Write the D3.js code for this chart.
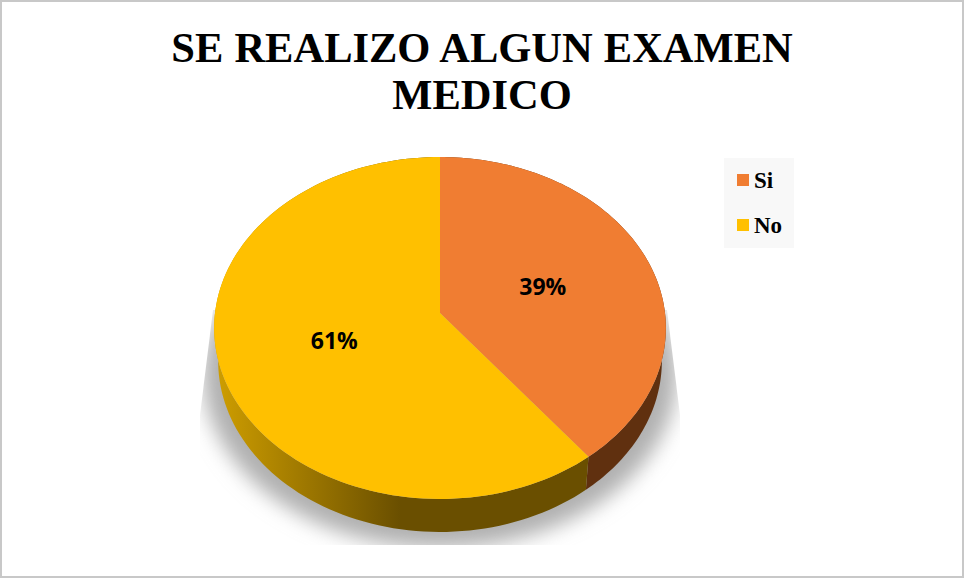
<!DOCTYPE html>
<html>
<head>
<meta charset="utf-8">
<script src="https://cdn.jsdelivr.net/npm/d3@7"></script>
<style>
  html, body { margin: 0; padding: 0; background: #fff; }
  svg { display: block; }
</style>
</head>
<body>
<div id="viz"></div>
<script>
const titleLines = ['SE REALIZO ALGUN EXAMEN', 'MEDICO'];
const categories = ['Si', 'No'];
const shares = [0.3947, 0.6053]; // labels only show whole percents

const topColors = ['#f07d32', '#ffc000'];
const wallColors = ['#60300f', 'url(#wallNo)'];

const width = 964;
const height = 578;
const serif = '"Liberation Serif", "Times New Roman", serif';

const svg = d3.select('#viz')
  .append('svg')
  .attr('width', width)
  .attr('height', height)
  .attr('viewBox', `0 0 ${width} ${height}`);

const defs = svg.append('defs');

const wallGradient = defs.append('linearGradient')
  .attr('id', 'wallNo')
  .attr('gradientUnits', 'userSpaceOnUse')
  .attr('x1', 220).attr('x2', 400)
  .attr('y1', 0).attr('y2', 0);
wallGradient.append('stop').attr('offset', 0).attr('stop-color', '#cc9c00');
wallGradient.append('stop').attr('offset', 1).attr('stop-color', '#6a4f00');

defs.append('filter')
  .attr('id', 'soft')
  .attr('x', '-20%').attr('y', '-20%')
  .attr('width', '140%').attr('height', '140%')
  .append('feGaussianBlur')
  .attr('stdDeviation', 10);

defs.append('clipPath')
  .attr('id', 'shadowClip')
  .append('polygon')
  .attr('points', '213,310 200,415 200,545 680,545 680,415 667,310');

// Frame
svg.append('rect')
  .attr('x', 1).attr('y', 1)
  .attr('width', width - 2).attr('height', height - 2)
  .attr('fill', '#fff')
  .attr('stroke', '#c8c8c8')
  .attr('stroke-width', 2);

// Title
svg.append('g')
  .selectAll('text')
  .data(titleLines)
  .join('text')
  .attr('x', 482)
  .attr('y', (d, i) => 62 + i * 47)
  .attr('text-anchor', 'middle')
  .attr('font-family', serif)
  .attr('font-weight', 'bold')
  .attr('font-size', 42.5)
  .attr('word-spacing', 0.5)
  .text(d => d);

// Tilted disc: a unit circle seen in perspective, so the apex sits above the
// middle of the ellipse
const cx = 440;
const apexY = 313;
const persp = -0.0877;
const yGain = 142.2;

const project = (angle, r, spread, drop) => {
  const u = Math.sin(angle) * r;
  const v = -Math.cos(angle) * r;
  const w = 1 + persp * v;
  return [cx + spread * u / w, (yGain * v + apexY) / w + drop];
};

const topSpread = 225;
const wallSpread = 221;
const wallDrop = 33;

const pie = d3.pie().sort(null).value(d => d);
const arcs = pie(shares);
const line = d3.line();

const arcAngles = d => d3.range(0, 121).map(i => d.startAngle + (d.endAngle - d.startAngle) * i / 120);

// Shadow
svg.append('g')
  .attr('clip-path', 'url(#shadowClip)')
  .append('ellipse')
  .attr('cx', cx)
  .attr('cy', 374)
  .attr('rx', 237)
  .attr('ry', 174)
  .attr('fill', '#b0b0b0')
  .attr('filter', 'url(#soft)');

// Walls
svg.append('g')
  .selectAll('path')
  .data(arcs)
  .join('path')
  .attr('fill', (d, i) => wallColors[i])
  .attr('d', d => {
    const angles = arcAngles(d);
    const upper = angles.map(a => project(a, 1, topSpread, 0));
    const lower = angles.map(a => project(a, 1, wallSpread, wallDrop)).reverse();
    return line(upper.concat(lower)) + 'Z';
  });

// Top face
svg.append('g')
  .selectAll('path')
  .data(arcs)
  .join('path')
  .attr('fill', (d, i) => topColors[i])
  .attr('d', d => {
    const rim = arcAngles(d).map(a => project(a, 1, topSpread, 0));
    return line([[cx, apexY]].concat(rim)) + 'Z';
  });

// Percent labels
const percent = d3.format('.0%');
svg.append('g')
  .selectAll('text')
  .data(arcs)
  .join('text')
  .attr('x', d => project((d.startAngle + d.endAngle) / 2, 0.49, topSpread, 0)[0])
  .attr('y', d => project((d.startAngle + d.endAngle) / 2, 0.49, topSpread, 0)[1] + 9)
  .attr('text-anchor', 'middle')
  .attr('font-family', '"Open Sans", sans-serif')
  .attr('font-weight', 'bold')
  .attr('font-size', 23)
  .text(d => percent(d.data));

// Legend
const legendY = d3.scalePoint().domain(categories).range([180, 225]);

svg.append('rect')
  .attr('x', 724).attr('y', 158)
  .attr('width', 70).attr('height', 90)
  .attr('fill', '#f8f8f8');

const legend = svg.append('g')
  .selectAll('g')
  .data(categories)
  .join('g')
  .attr('transform', d => `translate(737,${legendY(d)})`);

legend.append('rect')
  .attr('y', -6)
  .attr('width', 12)
  .attr('height', 12)
  .attr('fill', (d, i) => topColors[i]);

legend.append('text')
  .attr('x', 17)
  .attr('y', 8)
  .attr('font-family', serif)
  .attr('font-weight', 'bold')
  .attr('font-size', 23)
  .text(d => d);
</script>
</body>
</html>
